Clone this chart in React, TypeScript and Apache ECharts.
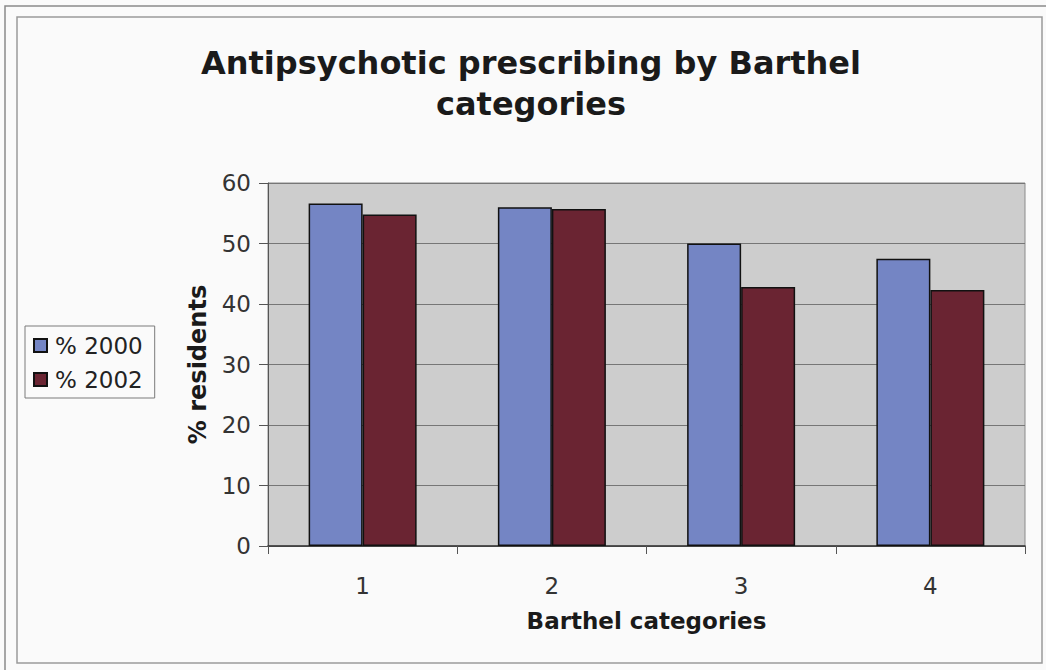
import React, { useEffect, useRef } from "react";
import * as echarts from "echarts";

const categories = ["1", "2", "3", "4"];
const series2000 = [56.6, 56.0, 50.0, 47.5];
const series2002 = [54.8, 55.7, 42.8, 42.3];
const seriesNames = ["% 2000", "% 2002"];
const titleText = "Antipsychotic prescribing by Barthel\ncategories";

const FONT = "'DejaVu Sans', Verdana, sans-serif";

export default function App() {
  const ref = useRef<HTMLDivElement>(null);
  useEffect(() => {
    if (!ref.current) return;
    const chart = echarts.init(ref.current, null, { renderer: "svg" });
    chart.setOption({
      animation: false,
      backgroundColor: "#fafafa",
      textStyle: { fontFamily: FONT },
      graphic: [
        {
          type: "rect",
          shape: { x: 5, y: 6, width: 1060, height: 680 },
          style: { fill: "none", stroke: "#8a8a8a", lineWidth: 1.5 },
          silent: true,
        },
        {
          type: "rect",
          shape: { x: 17, y: 17, width: 1025, height: 646 },
          style: { fill: "none", stroke: "#9a9a9a", lineWidth: 1.5 },
          silent: true,
        },
        {
          type: "text",
          x: 531,
          y: 83,
          style: {
            text: titleText,
            fontFamily: FONT,
            fontWeight: "bold",
            fontSize: 32,
            lineHeight: 41,
            fill: "#1a1a1a",
            align: "center",
            verticalAlign: "middle",
          },
        },
      ],
      legend: {
        orient: "vertical",
        left: 25,
        top: 326,
        padding: [8, 12, 7, 8],
        itemGap: 11,
        itemWidth: 13,
        itemHeight: 13,
        borderColor: "#7a7a7a",
        borderWidth: 1,
        backgroundColor: "#fafafa",
        borderRadius: 0,
        icon: "rect",
        textStyle: { fontSize: 23, color: "#222", fontFamily: FONT, padding: [0, 0, 0, 3] },
        data: seriesNames,
      },
      grid: { left: 268, right: 21, top: 183, bottom: 124, show: true, backgroundColor: "#cdcdcd", borderColor: "#8a8a8a", borderWidth: 1 },
      xAxis: {
        type: "category",
        data: categories,
        name: "Barthel categories",
        nameLocation: "middle",
        nameGap: 63,
        nameTextStyle: { fontSize: 23, fontWeight: "bold", color: "#1a1a1a", fontFamily: FONT },
        axisLine: { lineStyle: { color: "#333", width: 1.5 } },
        axisTick: { show: true, length: 8, lineStyle: { color: "#555" } },
        axisLabel: { fontSize: 23, color: "#333", margin: 28, fontFamily: FONT },
      },
      yAxis: {
        type: "value",
        min: 0,
        max: 60,
        interval: 10,
        name: "% residents",
        nameLocation: "middle",
        nameGap: 58,
        nameRotate: 90,
        nameTextStyle: { fontSize: 24, fontWeight: "bold", color: "#1a1a1a", fontFamily: FONT },
        axisLine: { show: true, lineStyle: { color: "#555", width: 1 } },
        axisTick: { show: true, length: 9, lineStyle: { color: "#555" } },
        axisLabel: { fontSize: 23, color: "#333", margin: 17, fontFamily: FONT },
        splitLine: { show: true, lineStyle: { color: "#767676", width: 1.2 } },
      },
      series: [
        {
          name: seriesNames[0],
          type: "bar",
          data: series2000,
          barWidth: 54,
          barGap: "0%",
          itemStyle: { color: "#7485c4", borderColor: "#111", borderWidth: 1.5 },
        },
        {
          name: seriesNames[1],
          type: "bar",
          data: series2002,
          barWidth: 54,
          barGap: "0%",
          itemStyle: { color: "#6a2432", borderColor: "#111", borderWidth: 1.5 },
        },
      ],
    });
    return () => chart.dispose();
  }, []);
  return (
    <div
      ref={ref}
      style={{ position: "fixed", left: 0, top: 0, width: 1046, height: 670 }}
    />
  );
}
